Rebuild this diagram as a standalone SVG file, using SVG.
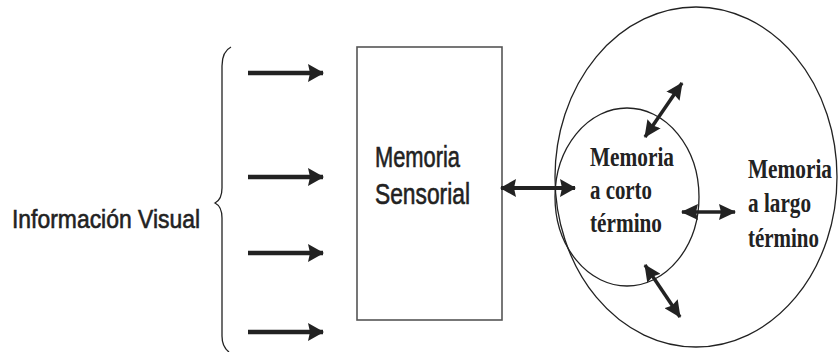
<svg xmlns="http://www.w3.org/2000/svg" width="838" height="352" viewBox="0 0 838 352">
<style>
.sans{font-family:"Liberation Sans",Arial,sans-serif;fill:#222;stroke:#222;stroke-width:0.6}
.serif{font-family:"Liberation Serif","Times New Roman",serif;font-weight:bold;fill:#222}
.shape{fill:none;stroke:#222;stroke-width:1.3}
.arr{stroke:#222;fill:none}
</style>
<defs>
<marker id="head" markerUnits="userSpaceOnUse" markerWidth="16" markerHeight="18" refX="15" refY="9" orient="auto-start-reverse" viewBox="0 0 16 18">
<path d="M0,0 L16,9 L0,18 L2,9 Z" fill="#222"/>
</marker>
<marker id="head2" markerUnits="userSpaceOnUse" markerWidth="17" markerHeight="16" refX="16" refY="8" orient="auto-start-reverse" viewBox="0 0 17 16">
<path d="M0,0 L17,8 L0,16 L2,8 Z" fill="#222"/>
</marker>
</defs>
<g id="informacion-visual">
<text class="sans" x="12" y="228" font-size="26" textLength="188" lengthAdjust="spacingAndGlyphs">Información Visual</text>
<path class="shape" d="M231,47 C225,50 222,56 222,66 L222,188 C222,197 219,201 215,203 C219,205 222,209 222,218 L222,336 C222,344 225,349 229,352"/>
</g>
<g id="memoria-sensorial">
<rect x="357" y="47" width="145" height="273" fill="none" stroke="#555" stroke-width="1.6"/>
<text class="sans" x="375" y="167" font-size="29" textLength="85" lengthAdjust="spacingAndGlyphs">Memoria</text>
<text class="sans" x="375" y="204" font-size="29" textLength="95" lengthAdjust="spacingAndGlyphs">Sensorial</text>
</g>
<g id="memoria-largo-plazo">
<ellipse class="shape" cx="696" cy="177" rx="141" ry="170"/>
<text class="serif" x="748" y="178" font-size="28" textLength="84" lengthAdjust="spacingAndGlyphs">Memoria</text>
<text class="serif" x="748" y="212" font-size="28" textLength="63" lengthAdjust="spacingAndGlyphs">a largo</text>
<text class="serif" x="748" y="247" font-size="28" textLength="71" lengthAdjust="spacingAndGlyphs">término</text>
</g>
<g id="memoria-corto-plazo">
<ellipse class="shape" cx="627" cy="197" rx="72" ry="89"/>
<text class="serif" x="590" y="166" font-size="28" textLength="84" lengthAdjust="spacingAndGlyphs">Memoria</text>
<text class="serif" x="590" y="199" font-size="28" textLength="62" lengthAdjust="spacingAndGlyphs">a corto</text>
<text class="serif" x="590" y="232" font-size="28" textLength="72" lengthAdjust="spacingAndGlyphs">término</text>
</g>
<g id="connectors">
<line class="arr" x1="248" y1="73" x2="323" y2="73" stroke-width="4.5" marker-end="url(#head)"/>
<line class="arr" x1="248" y1="177" x2="323" y2="177" stroke-width="4.5" marker-end="url(#head)"/>
<line class="arr" x1="248" y1="253" x2="323" y2="253" stroke-width="4.5" marker-end="url(#head)"/>
<line class="arr" x1="248" y1="332" x2="323" y2="332" stroke-width="4.5" marker-end="url(#head)"/>
<line class="arr" x1="501" y1="188" x2="575" y2="188" stroke-width="4" marker-start="url(#head)" marker-end="url(#head)"/>
<line class="arr" x1="645" y1="137" x2="682" y2="83" stroke-width="3.5" marker-start="url(#head2)" marker-end="url(#head2)"/>
<line class="arr" x1="645" y1="265" x2="680" y2="317" stroke-width="3.5" marker-start="url(#head2)" marker-end="url(#head2)"/>
<line class="arr" x1="682" y1="212" x2="735" y2="212" stroke-width="3.5" marker-start="url(#head2)" marker-end="url(#head2)"/>
</g>
</svg>
